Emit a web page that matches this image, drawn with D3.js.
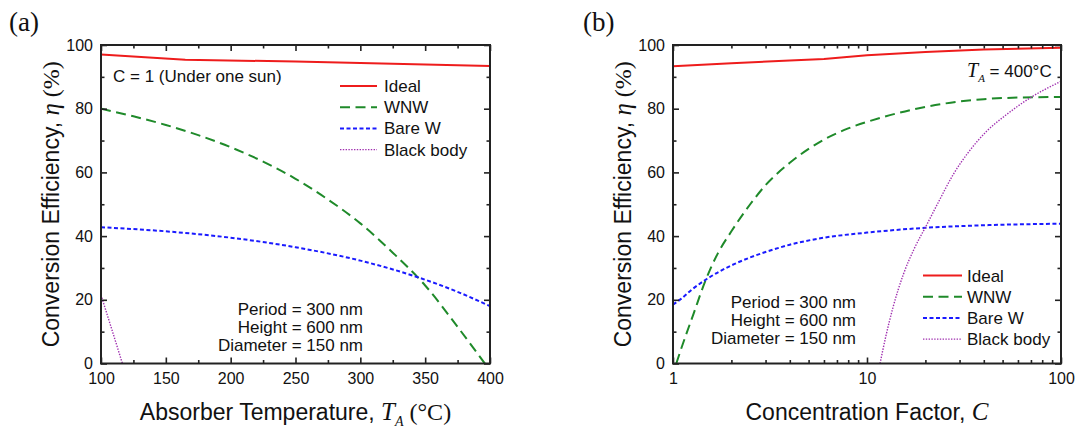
<!DOCTYPE html>
<html>
<head>
<meta charset="utf-8">
<script src="https://cdn.jsdelivr.net/npm/d3@7"></script>
<style>
  html, body { margin: 0; padding: 0; background: #fff; }
  svg { display: block; }
  .sans { font-family: "Liberation Sans", Arial, sans-serif; }
  .serif { font-family: "Liberation Serif", "Times New Roman", serif; }
</style>
</head>
<body>
<svg id="chart" width="1079" height="434"></svg>
<script>
// ---------- DATA ----------
// Panel (a): efficiency vs absorber temperature (C = 1)
const aIdealT   = [100, 165, 250, 400];
const aIdealEta = [97.0, 95.4, 94.8, 93.4];
const aWnwT     = [100, 125, 150, 175, 200, 225, 250, 275, 300, 325, 350, 375, 396];
const aWnwEta   = [80, 77.6, 74.9, 71.7, 67.9, 63.4, 58.0, 51.5, 44.0, 34.8, 24.5, 11.5, 0];
const aBareT    = [100, 150, 200, 250, 300, 350, 375, 400];
const aBareEta  = [42.8, 41.5, 39.5, 36.5, 32.3, 26.3, 22.5, 18];
const aBbT      = [100, 108.5, 116.5];
const aBbEta    = [21.5, 10.5, 0];

// Panel (b): efficiency vs concentration factor (T_A = 400 °C)
const bIdealC   = [1, 2, 4, 6, 10, 20, 40, 100];
const bIdealEta = [93.3, 94.3, 95.1, 95.6, 96.8, 97.8, 98.6, 99.1];
const bWnwC     = [1.04, 1.1, 1.276, 1.47, 1.7, 2, 2.5, 3, 4, 6, 8, 12, 18, 27, 40, 60, 100];
const bWnwEta   = [0, 4.5, 15.6, 26, 34.5, 41.5, 50, 56, 63, 70.3, 73.8, 77.3, 80, 81.9, 83, 83.5, 83.7];
const bBareC    = [1, 1.1, 1.25, 1.5, 2, 2.5, 3, 4, 6, 10, 20, 40, 100];
const bBareEta  = [18.5, 20.3, 23.2, 26.6, 30.8, 33.3, 35.0, 37.3, 39.5, 41.1, 42.6, 43.4, 43.9];
const bBbC      = [11.67, 12.5, 13.6, 15.4, 17.5, 20.3, 23.5, 27.8, 33.5, 41.5, 52, 67.7, 100];
const bBbEta    = [0, 8.5, 17.5, 28, 36, 43.5, 51, 59.3, 66.5, 73, 78, 83, 88.6];

const seriesNames = ["Ideal", "WNW", "Bare W", "Black body"];
const yTicks      = [0, 20, 40, 60, 80, 100];
const yMinor      = [10, 30, 50, 70, 90];
const aXTicks     = [100, 150, 200, 250, 300, 350, 400];
const aXMinor     = [125, 175, 225, 275, 325, 375];
const bXTicks     = [1, 10, 100];
const bXMinor     = [2, 3, 4, 5, 6, 7, 8, 9, 20, 30, 40, 50, 60, 70, 80, 90];

// ---------- STYLES ----------
const styles = [
  { color: "#ee1c1c", width: 2,   dash: null },
  { color: "#1f8a2a", width: 2,   dash: "10,5.5" },
  { color: "#1a1aff", width: 2,   dash: "4,2.5" },
  { color: "#a030b0", width: 1.4, dash: "1.4,1.4" }
];

const svg = d3.select("#chart");
const plotTop = 45, plotBottom = 363.5;
const yScale = d3.scaleLinear().domain([0, 100]).range([plotBottom, plotTop]);

function zip(xs, ys) { return xs.map((v, i) => [v, ys[i]]); }

function drawPanel(o) {
  const g = svg.append("g");
  const x = o.x;
  const y = yScale;
  const [x0, x1] = x.range();
  const clipId = "clip" + o.id;
  svg.append("clipPath").attr("id", clipId)
    .append("rect").attr("x", x0).attr("y", plotTop).attr("width", x1 - x0).attr("height", plotBottom - plotTop);

  // series
  o.series.forEach((s, i) => {
    const st = styles[i];
    const line = d3.line().x(d => x(d[0])).y(d => y(d[1])).curve(s.curve || d3.curveMonotoneX);
    g.append("path")
      .attr("d", line(s.data))
      .attr("fill", "none")
      .attr("stroke", st.color)
      .attr("stroke-width", st.width)
      .attr("stroke-dasharray", st.dash)
      .attr("clip-path", `url(#${clipId})`);
  });

  // axes
  const fmt = d3.format("d");
  g.append("g").attr("transform", `translate(0,${plotBottom})`)
    .call(d3.axisBottom(x).tickValues(o.xTicks).tickFormat(fmt).tickSize(-6).tickPadding(9));
  g.append("g").attr("transform", `translate(0,${plotBottom})`)
    .call(d3.axisBottom(x).tickValues(o.xMinor).tickFormat("").tickSize(-3.5));
  g.append("g").attr("transform", `translate(0,${plotTop})`)
    .call(d3.axisTop(x).tickValues(o.xTicks).tickFormat("").tickSize(-6));
  g.append("g").attr("transform", `translate(0,${plotTop})`)
    .call(d3.axisTop(x).tickValues(o.xMinor).tickFormat("").tickSize(-3.5));
  g.append("g").attr("transform", `translate(${x0},0)`)
    .call(d3.axisLeft(y).tickValues(yTicks).tickFormat(fmt).tickSize(-6).tickPadding(8));
  g.append("g").attr("transform", `translate(${x0},0)`)
    .call(d3.axisLeft(y).tickValues(yMinor).tickFormat("").tickSize(-3.5));
  g.append("g").attr("transform", `translate(${x1},0)`)
    .call(d3.axisRight(y).tickValues(yTicks).tickFormat("").tickSize(-6));
  g.append("g").attr("transform", `translate(${x1},0)`)
    .call(d3.axisRight(y).tickValues(yMinor).tickFormat("").tickSize(-3.5));
  g.selectAll(".domain").remove();
  g.selectAll(".tick line").attr("stroke", "#222").attr("stroke-width", 1.6);
  g.selectAll(".tick text")
    .style("font-family", '"Liberation Sans", Arial, sans-serif')
    .style("font-size", "16px").attr("fill", "#111");

  // frame
  g.append("rect").attr("x", x0).attr("y", plotTop).attr("width", x1 - x0).attr("height", plotBottom - plotTop)
    .attr("fill", "none").attr("stroke", "#222").attr("stroke-width", 2);

  // legend
  o.legend.rows.forEach((name, i) => {
    const st = styles[i];
    const by = o.legend.y + i * 21.2;
    g.append("line")
      .attr("x1", o.legend.lx0).attr("x2", o.legend.lx1)
      .attr("y1", by - 6).attr("y2", by - 6)
      .attr("stroke", st.color).attr("stroke-width", st.width)
      .attr("stroke-dasharray", st.dash);
    g.append("text").attr("class", "sans")
      .attr("x", o.legend.tx).attr("y", by)
      .style("font-size", "17px").attr("fill", "#111").text(name);
  });

  // parameters text
  const params = ["Period = 300 nm", "Height = 600 nm", "Diameter = 150 nm"];
  params.forEach((t, i) => {
    g.append("text").attr("class", "sans")
      .attr("x", o.paramX).attr("y", o.paramY + i * 18.2)
      .attr("text-anchor", "end")
      .style("font-size", "17px").attr("fill", "#111").text(t);
  });

  // panel label
  g.append("text").attr("class", "serif")
    .attr("x", o.labelX).attr("y", 31)
    .style("font-size", "27px").attr("fill", "#111").text(o.label);

  // y title
  const cy = (plotTop + plotBottom) / 2;
  const yt = g.append("text")
    .attr("transform", `translate(${x0 - 42},${cy}) rotate(-90)`)
    .attr("text-anchor", "middle").attr("fill", "#111");
  yt.append("tspan").attr("class", "sans").style("font-size", "23px").text("Conversion Efficiency, ");
  yt.append("tspan").attr("class", "serif").style("font-size", "25px").style("font-style", "italic").text("η");
  yt.append("tspan").attr("class", "serif").style("font-size", "24px").text(" (%)");

  // x title
  const xt = g.append("text")
    .attr("x", (x0 + x1) / 2).attr("y", 420)
    .attr("text-anchor", "middle").attr("fill", "#111");
  o.xTitle(xt);
}

// Panel (a)
drawPanel({
  id: "a",
  label: "(a)", labelX: 9,
  x: d3.scaleLinear().domain([100, 400]).range([101, 490]),
  xTicks: aXTicks, xMinor: aXMinor,
  series: [
    { data: zip(aIdealT, aIdealEta), curve: d3.curveLinear },
    { data: zip(aWnwT, aWnwEta) },
    { data: zip(aBareT, aBareEta) },
    { data: zip(aBbT, aBbEta) }
  ],
  legend: { rows: seriesNames, y: 92, lx0: 340, lx1: 377, tx: 384 },
  paramX: 363, paramY: 315,
  xTitle: t => {
    t.append("tspan").attr("class", "sans").style("font-size", "23px").text("Absorber Temperature, ");
    t.append("tspan").attr("class", "serif").style("font-size", "25px").style("font-style", "italic").text("T");
    t.append("tspan").attr("class", "serif").style("font-size", "14px").style("font-style", "italic").attr("dy", 6).text("A");
    t.append("tspan").attr("class", "serif").style("font-size", "24px").attr("dy", -6).text(" (°C)");
  }
});
svg.append("text").attr("class", "sans")
  .attr("x", 113).attr("y", 82)
  .style("font-size", "17px").attr("fill", "#111").text("C = 1 (Under one sun)");

// Panel (b)
drawPanel({
  id: "b",
  label: "(b)", labelX: 583,
  x: d3.scaleLog().domain([1, 100]).range([673, 1061]),
  xTicks: bXTicks, xMinor: bXMinor,
  series: [
    { data: zip(bIdealC, bIdealEta), curve: d3.curveLinear },
    { data: zip(bWnwC, bWnwEta) },
    { data: zip(bBareC, bBareEta) },
    { data: zip(bBbC, bBbEta) }
  ],
  legend: { rows: seriesNames, y: 281.5, lx0: 923, lx1: 962, tx: 967 },
  paramX: 856, paramY: 307.5,
  xTitle: t => {
    t.append("tspan").attr("class", "sans").style("font-size", "23px").text("Concentration Factor, ");
    t.append("tspan").attr("class", "serif").style("font-size", "25px").style("font-style", "italic").text("C");
  }
});
const ta = svg.append("text").attr("x", 967).attr("y", 77).attr("fill", "#111");
ta.append("tspan").attr("class", "serif").style("font-size", "20px").style("font-style", "italic").text("T");
ta.append("tspan").attr("class", "serif").style("font-size", "11px").style("font-style", "italic").attr("dy", 5).text("A");
ta.append("tspan").attr("class", "sans").style("font-size", "17px").attr("dy", -5).text(" = 400°C");
</script>
</body>
</html>
